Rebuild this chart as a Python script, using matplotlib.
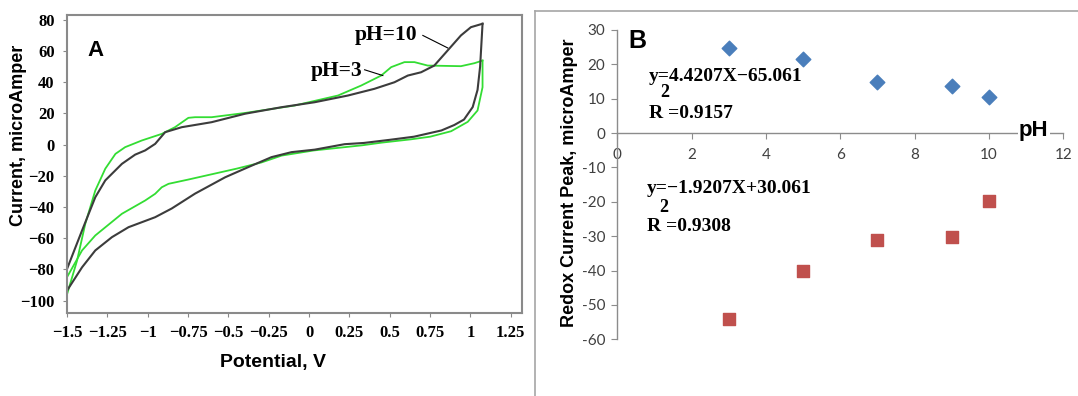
import numpy as np
import matplotlib.pyplot as plt
from matplotlib.lines import Line2D

plt.rcParams['axes.unicode_minus'] = False

#%% Panel A data - cyclic voltammograms (V, microA)
v_ph10_fwd = [-1.5, -1.407, -1.325, -1.263, -1.16, -1.078, -1.016, -0.954, -0.892, -0.789, -0.604,
              -0.398, -0.171, 0.035, 0.241, 0.405, 0.529, 0.612, 0.694, 0.776, 0.859, 0.941, 1.003, 1.075]
i_ph10_fwd = [-79.7, -55.1, -33.8, -23.0, -12.4, -6.5, -3.8, 0.4, 7.9, 11.1, 14.3,
              19.7, 23.9, 27.1, 31.4, 35.7, 39.9, 44.2, 46.3, 50.6, 60.3, 69.9, 75.2, 77.4]
v_ph10_rev = [1.075, 1.06, 1.044, 1.014, 0.96, 0.90, 0.82, 0.65, 0.50, 0.34, 0.22, 0.035, -0.109,
              -0.233, -0.377, -0.52, -0.707, -0.851, -0.954, -1.119, -1.222, -1.325, -1.407, -1.5]
i_ph10_rev = [77.4, 50.0, 35.0, 24.0, 16.0, 12.5, 9.0, 5.0, 3.0, 1.0, 0.2, -3.3, -4.9,
              -8.1, -14.5, -21.0, -31.5, -41.0, -46.6, -53.0, -59.4, -67.9, -78.7, -93.6]

v_ph3_fwd = [-1.5, -1.438, -1.387, -1.325, -1.263, -1.2, -1.14, -1.036, -0.913, -0.831, -0.748, -0.707,
             -0.604, -0.398, -0.089, 0.179, 0.323, 0.447, 0.509, 0.591, 0.653, 0.735, 0.941, 1.024, 1.075]
i_ph3_fwd = [-96.0, -74.4, -50.8, -29.5, -15.5, -6.0, -1.7, 2.6, 6.8, 11.1, 17.1, 17.5,
             17.5, 20.2, 25.0, 31.4, 37.8, 44.2, 49.6, 52.8, 52.8, 50.6, 50.2, 52.1, 53.8]
v_ph3_rev = [1.075, 1.075, 1.044, 0.983, 0.88, 0.75, 0.63, 0.45, 0.33, 0.03, -0.17, -0.295, -0.45,
             -0.6, -0.75, -0.871, -0.913, -0.954, -1.016, -1.16, -1.325, -1.407, -1.5]
i_ph3_rev = [53.8, 36.7, 21.8, 14.5, 8.5, 5.0, 3.3, 1.2, -0.5, -3.8, -7.1, -11.5, -15.5,
             -19.0, -22.5, -25.2, -27.4, -31.6, -35.9, -44.4, -58.3, -67.9, -85.0]

xticks_A = [-1.5, -1.25, -1, -0.75, -0.5, -0.25, 0, 0.25, 0.5, 0.75, 1, 1.25]
xlabels_A = ['\u22121.5', '\u22121.25', '\u22121', '\u22120.75', '\u22120.5', '\u22120.25',
             '0', '0.25', '0.5', '0.75', '1', '1.25']
yticks_A = [-100, -80, -60, -40, -20, 0, 20, 40, 60, 80]
ylabels_A = ['\u2212100', '\u221280', '\u221260', '\u221240', '\u221220', '0', '20', '40', '60', '80']

#%% Panel B data - redox peak currents vs pH
ph = [3, 5, 7, 9, 10]
ox_peak = [24.7, 21.5, 14.8, 13.7, 10.5]
red_peak = [-54.2, -40.1, -31.0, -30.2, -19.9]

serif = 'Liberation Serif'
sans = 'Liberation Sans'

fig = plt.figure(figsize=(10.78, 3.96), dpi=100)

#%% Panel A
axA = fig.add_axes([0.0622, 0.2096, 0.4221, 0.7525])
axA.plot(v_ph3_fwd, i_ph3_fwd, color='#33dd33', lw=1.3)
axA.plot(v_ph3_rev, i_ph3_rev, color='#33dd33', lw=1.3)
axA.plot(v_ph10_fwd, i_ph10_fwd, color='#3c3c3c', lw=1.5)
axA.plot(v_ph10_rev, i_ph10_rev, color='#3c3c3c', lw=1.5)
axA.set_xlim(-1.5, 1.32)
axA.set_ylim(-108, 83)
axA.set_xticks(xticks_A)
axA.set_xticklabels(xlabels_A, fontfamily=serif, fontweight='bold', fontsize=12)
axA.set_yticks(yticks_A)
axA.set_yticklabels(ylabels_A, fontfamily=serif, fontweight='bold', fontsize=12)
axA.tick_params(axis='x', direction='out', length=3, pad=6, color='#888888')
axA.tick_params(axis='y', direction='out', length=3, pad=6, color='#888888')
for s in axA.spines.values():
    s.set_color('#8a8a8a')
    s.set_linewidth(1.5)

axA.text(0.28, 69.9, 'pH=10', fontfamily=serif, fontweight='bold', fontsize=15.5, ha='left', va='center')
axA.plot([0.705, 0.859], [69.9, 61.9], color='black', lw=0.8)
axA.text(0.01, 47.4, 'pH=3', fontfamily=serif, fontweight='bold', fontsize=15.5, ha='left', va='center')
axA.plot([0.344, 0.457], [47.9, 44.2], color='black', lw=0.8)

fig.text(95 / 1078, 1 - 50 / 396, 'A', fontfamily=sans, fontweight='bold', fontsize=16, ha='center', va='center')
fig.text(19 / 1078, 1 - 135 / 396, 'Current, microAmper', fontfamily=sans, fontweight='bold',
         fontsize=13, rotation=90, ha='center', va='center')
fig.text(273 / 1078, 1 - 363 / 396, 'Potential, V', fontfamily=sans, fontweight='bold',
         fontsize=14, ha='center', va='center')

#%% Panel B
axB = fig.add_axes([617.2 / 1078, 1 - 339.3 / 396, 446 / 1078, 309.3 / 396])
axB.scatter(ph, ox_peak, marker='D', s=55, color='#4a7ebb', zorder=3, clip_on=False)
axB.scatter(ph, red_peak, marker='s', s=70, color='#c0504d', zorder=3, clip_on=False)
axB.set_xlim(0, 12)
axB.set_ylim(-60, 30)
axB.set_xticks(np.arange(0, 13, 2))
axB.set_yticks(np.arange(-60, 31, 10))
axB.spines['top'].set_visible(False)
axB.spines['right'].set_visible(False)
axB.spines['bottom'].set_position(('data', 0))
for s in axB.spines.values():
    s.set_color('#8c8c8c')
    s.set_linewidth(1.0)
axB.tick_params(axis='x', direction='out', length=4, pad=7, color='#8c8c8c',
                labelsize=11, labelcolor='#404040')
axB.tick_params(axis='y', direction='out', length=4.5, pad=4, color='#8c8c8c',
                labelsize=11, labelcolor='#404040')
for lab in axB.get_xticklabels() + axB.get_yticklabels():
    lab.set_fontfamily('Lato')

axB.text(11.21, -0.8, 'pH', fontfamily=sans, fontweight='bold', fontsize=16, ha='center',
         va='baseline', bbox=dict(facecolor='white', edgecolor='none', pad=1.0))

axB.text(0.855, 16.5, 'y=4.4207X\u221265.061', fontfamily=serif, fontweight='bold', fontsize=14,
         ha='left', va='center')
axB.text(1.29, 11.8, '2', fontfamily=serif, fontweight='bold', fontsize=13, ha='center', va='center')
axB.text(0.855, 5.8, 'R =0.9157', fontfamily=serif, fontweight='bold', fontsize=14, ha='left', va='center')

axB.text(0.80, -16.2, 'y=\u22121.9207X+30.061', fontfamily=serif, fontweight='bold', fontsize=14,
         ha='left', va='center')
axB.text(1.25, -21.6, '2', fontfamily=serif, fontweight='bold', fontsize=13, ha='center', va='center')
axB.text(0.80, -27.2, 'R =0.9308', fontfamily=serif, fontweight='bold', fontsize=14, ha='left', va='center')

fig.text(637 / 1078, 1 - 41 / 396, 'B', fontfamily=sans, fontweight='bold', fontsize=18, ha='center', va='center')
fig.text(569 / 1078, 1 - 183 / 396, 'Redox Current Peak, microAmper', fontfamily=sans, fontweight='bold',
         fontsize=13, rotation=90, ha='center', va='center')

# chart area frame of panel B
fig.add_artist(Line2D([535 / 1078, 535 / 1078], [0, 1 - 11 / 396], color='#a6a6a6', lw=1.2))
fig.add_artist(Line2D([535 / 1078, 1], [1 - 11 / 396, 1 - 11 / 396], color='#a6a6a6', lw=1.2))

fig.savefig("out.png", dpi=100)
